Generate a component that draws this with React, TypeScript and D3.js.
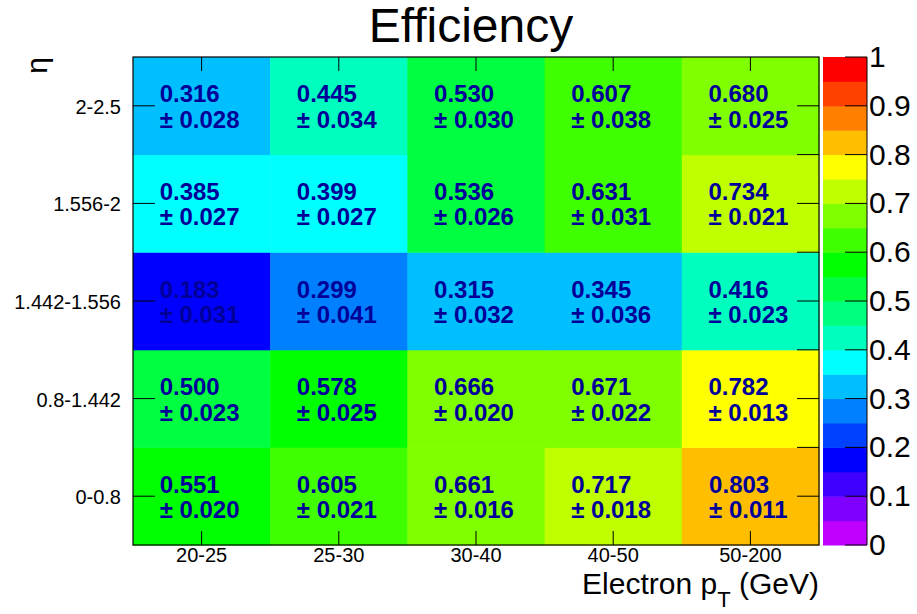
import React, { useEffect, useRef } from 'react'
import * as d3 from 'd3'

// bins
const ptBins = ['20-25', '25-30', '30-40', '40-50', '50-200']
const etaBins = ['0-0.8', '0.8-1.442', '1.442-1.556', '1.556-2', '2-2.5']

// efficiency per eta bin (rows, bottom to top), one value per pt bin
const eff = [
    [0.551, 0.605, 0.661, 0.717, 0.803],
    [0.500, 0.578, 0.666, 0.671, 0.782],
    [0.183, 0.299, 0.315, 0.345, 0.416],
    [0.385, 0.399, 0.536, 0.631, 0.734],
    [0.316, 0.445, 0.530, 0.607, 0.680],
]
const errs = [
    [0.020, 0.021, 0.016, 0.018, 0.011],
    [0.023, 0.025, 0.020, 0.022, 0.013],
    [0.031, 0.041, 0.032, 0.036, 0.023],
    [0.027, 0.027, 0.026, 0.031, 0.021],
    [0.028, 0.034, 0.030, 0.038, 0.025],
]
const zTicks = [0, 0.1, 0.2, 0.3, 0.4, 0.5, 0.6, 0.7, 0.8, 0.9, 1]

const App = () => {
    const ref = useRef<SVGSVGElement>(null)
    const width = 917
    const height = 614
    const left = 133, right = 819, top = 57, bottom = 545
    const font = 'Liberation Sans, Arial, sans-serif'

    useEffect(() => {
        const svg = d3.select(ref.current)
        svg.selectAll('*').remove()

        const x = d3.scaleBand<string>().domain(ptBins).range([left, right])
        const y = d3.scaleBand<string>().domain(etaBins).range([bottom, top])
        const z = d3.scaleLinear().domain([0, 1]).range([bottom, top])

        // ROOT-like rainbow, 20 contours
        const palette = d3.range(20).map(k => d3.hsl(285 - 15 * k, 1, 0.5).formatRgb())
        const color = d3.scaleQuantize<string>().domain([0, 1]).range(palette)

        const cells = etaBins.flatMap((eta, i) => ptBins.map((pt, j) => ({ eta, pt, v: eff[i][j], e: errs[i][j] })))

        svg.append('g')
            .selectAll('rect')
            .data(cells)
            .join('rect')
            .attr('x', d => x(d.pt)!)
            .attr('y', d => y(d.eta)!)
            .attr('width', x.bandwidth() + 0.5)
            .attr('height', y.bandwidth() + 0.5)
            .attr('fill', d => color(d.v))

        // frame ticks
        const ticks = svg.append('g').attr('stroke', '#000').attr('stroke-width', 1)
        ptBins.forEach(pt => {
            const cx = x(pt)! + x.bandwidth() / 2
            ticks.append('line').attr('x1', cx).attr('x2', cx).attr('y1', bottom).attr('y2', bottom - 14)
            ticks.append('line').attr('x1', cx).attr('x2', cx).attr('y1', top).attr('y2', top + 14)
        })
        etaBins.forEach(eta => {
            const cy = y(eta)! + y.bandwidth() / 2
            ticks.append('line').attr('x1', left).attr('x2', left + 22).attr('y1', cy).attr('y2', cy)
        })
        zTicks.slice(1, -1).forEach(t => {
            ticks.append('line').attr('x1', right - 22).attr('x2', right).attr('y1', z(t)).attr('y2', z(t))
        })

        // cell labels: value and error on two lines
        const labels = svg.append('g')
            .attr('font-family', font)
            .attr('font-weight', 'bold')
            .attr('font-size', 24)
            .attr('fill', '#000099')
        cells.forEach(d => {
            const cx = x(d.pt)! + x.bandwidth() / 2
            const cy = y(d.eta)! + y.bandwidth() / 2
            const t = labels.append('text')
            const s1 = t.append('tspan').attr('y', cy - 3.5).text(d.v.toFixed(3))
            const s2 = t.append('tspan').attr('y', cy + 22).text('\u00b1 ' + d.e.toFixed(3))
            const w = Math.max(s1.node()!.getComputedTextLength(), s2.node()!.getComputedTextLength())
            s1.attr('x', cx - w / 2 - 2)
            s2.attr('x', cx - w / 2 - 2)
        })

        svg.append('rect')
            .attr('x', left).attr('y', top)
            .attr('width', right - left).attr('height', bottom - top)
            .attr('fill', 'none').attr('stroke', '#000').attr('stroke-width', 1.2)

        // axis labels
        svg.append('g')
            .attr('font-family', font).attr('font-size', 20).attr('text-anchor', 'end')
            .selectAll('text').data(etaBins).join('text')
            .attr('x', 121)
            .attr('y', d => y(d)! + y.bandwidth() / 2 + 8)
            .text(d => d)

        svg.append('g')
            .attr('font-family', font).attr('font-size', 20).attr('text-anchor', 'middle')
            .selectAll('text').data(ptBins).join('text')
            .attr('x', d => x(d)! + x.bandwidth() / 2)
            .attr('y', bottom + 17)
            .text(d => d)

        // color bar
        const cbL = 823, cbR = 867
        const bar = svg.append('g')
        bar.selectAll('rect').data(palette).join('rect')
            .attr('x', cbL)
            .attr('y', (_, k) => z((k + 1) / 20))
            .attr('width', cbR - cbL)
            .attr('height', (_, k) => z(k / 20) - z((k + 1) / 20) + 0.5)
            .attr('fill', c => c)
        bar.append('line').attr('x1', cbR).attr('x2', cbR).attr('y1', top).attr('y2', bottom).attr('stroke', '#000')
        bar.selectAll('line.t').data(zTicks).join('line').attr('class', 't')
            .attr('x1', cbR - 22).attr('x2', cbR)
            .attr('y1', d => z(d)).attr('y2', d => z(d))
            .attr('stroke', '#000')
        bar.selectAll('text').data(zTicks).join('text')
            .attr('x', 869)
            .attr('y', d => z(d) + 10)
            .attr('font-family', font).attr('font-size', 30)
            .text(d => d3.format('~g')(d))

        // titles
        svg.append('text')
            .attr('x', 471).attr('y', 42)
            .attr('text-anchor', 'middle')
            .attr('font-family', font).attr('font-size', 48)
            .text('Efficiency')

        const xt = svg.append('text')
            .attr('x', right).attr('y', 594)
            .attr('text-anchor', 'end')
            .attr('font-family', font).attr('font-size', 30)
        xt.append('tspan').text('Electron p')
        xt.append('tspan').attr('font-size', 22).attr('dy', 13).text('T')
        xt.append('tspan').attr('dy', -13).text(' (GeV)')

        svg.append('text')
            .attr('transform', 'translate(47,57) rotate(-90)')
            .attr('text-anchor', 'end')
            .attr('font-family', font).attr('font-size', 30)
            .text('\u03b7')
    }, [])

    return (
        <svg ref={ref} width={width} height={height}
            style={{ position: 'absolute', left: 0, top: 0, background: '#fff' }} />
    )
}

export default App
